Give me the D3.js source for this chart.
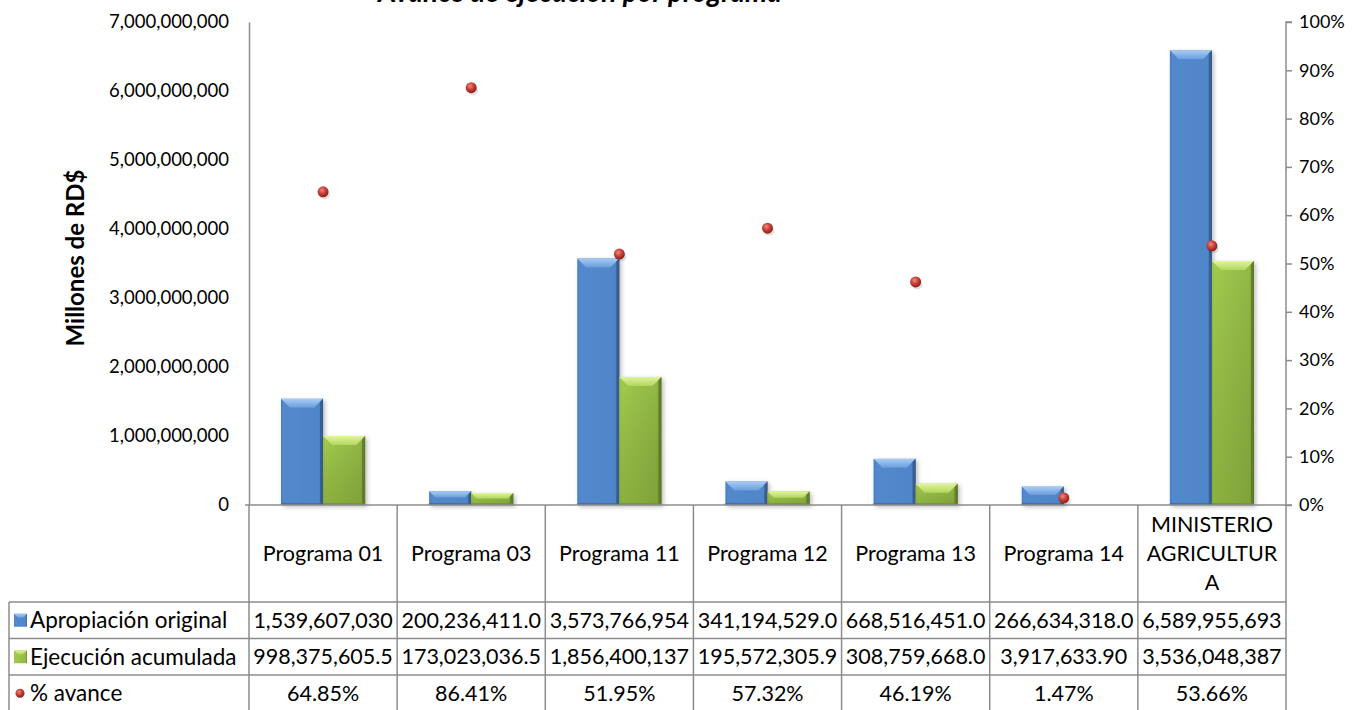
<!DOCTYPE html>
<html><head><meta charset="utf-8">
<script src="https://cdn.jsdelivr.net/npm/d3@7"></script>
<style>
html,body{margin:0;padding:0;background:#fff;}
svg{display:block;font-family:Lato, "Open Sans", sans-serif;}
</style></head>
<body>
<svg id="chart" width="1356" height="710"></svg>
<script>
const categories = ["Programa 01","Programa 03","Programa 11","Programa 12","Programa 13","Programa 14","MINISTERIO AGRICULTURA"];
const categoryLines = [["Programa 01"],["Programa 03"],["Programa 11"],["Programa 12"],["Programa 13"],["Programa 14"],["MINISTERIO","AGRICULTUR","A"]];
const apropiacion = [1539607030, 200236411.0, 3573766954, 341194529.0, 668516451.0, 266634318.0, 6589955693];
const ejecucion = [998375605.5, 173023036.5, 1856400137, 195572305.9, 308759668.0, 3917633.90, 3536048387];
const avance = [0.6485, 0.8641, 0.5195, 0.5732, 0.4619, 0.0147, 0.5366];
const apropiacionLabels = ["1,539,607,030","200,236,411.0","3,573,766,954","341,194,529.0","668,516,451.0","266,634,318.0","6,589,955,693"];
const ejecucionLabels = ["998,375,605.5","173,023,036.5","1,856,400,137","195,572,305.9","308,759,668.0","3,917,633.90","3,536,048,387"];
const avanceLabels = ["64.85%","86.41%","51.95%","57.32%","46.19%","1.47%","53.66%"];
const seriesNames = ["Apropiación original","Ejecución acumulada","% avance"];
const leftTicks = [0,1e9,2e9,3e9,4e9,5e9,6e9,7e9];
const rightTicks = [0,0.1,0.2,0.3,0.4,0.5,0.6,0.7,0.8,0.9,1.0];
const titleText = "Avance de ejecución por programa";
const yTitle = "Millones de RD$";

const svg = d3.select("#chart");
const L = 249, R = 1286, T = 22, B = 505;
const tableLeft = 9, headerBottom = 602, rowH = 36.5;
const lineColor = "#8c8c8c";

const x = d3.scaleBand().domain(categories).range([L, R]).padding(0);
const xs = d3.scaleBand().domain(["a","e"]).range([0, x.bandwidth()]).paddingInner(0).paddingOuter(0.76);
const y = d3.scaleLinear().domain([0, 7e9]).range([B, T]);
const yR = d3.scaleLinear().domain([0, 1]).range([B, T]);

// defs
const defs = svg.append("defs");
function lin(id, stops, x2, y2){
  const g = defs.append("linearGradient").attr("id", id).attr("x1",0).attr("y1",0).attr("x2",x2).attr("y2",y2);
  stops.forEach(s => g.append("stop").attr("offset", s[0]).attr("stop-color", s[1]));
}
lin("blueBody", [[0,"#4a7cc0"],[0.06,"#5288cc"],[0.9,"#5086c9"],[1,"#3b6397"]], 1, 0);
lin("greenBody", [[0,"#97bf45"],[0.06,"#a2ca4d"],[0.9,"#93b946"],[1,"#66822c"]], 1, 0);
lin("blueTop", [[0,"#a9cdf5"],[1,"#6a9ddc"]], 0, 1);
lin("greenTop", [[0,"#e0f59b"],[1,"#b2d65c"]], 0, 1);
lin("greenShade", [[0,"rgba(0,0,0,0)"],[1,"rgba(40,60,0,0.18)"]], 0, 1);
const rg = defs.append("radialGradient").attr("id","ball").attr("cx","40%").attr("cy","35%").attr("r","65%");
rg.append("stop").attr("offset",0).attr("stop-color","#f08a80");
rg.append("stop").attr("offset",0.5).attr("stop-color","#c9413a");
rg.append("stop").attr("offset",1).attr("stop-color","#8a1f1a");
const sh = defs.append("filter").attr("id","shadow").attr("x","-30%").attr("y","-30%").attr("width","160%").attr("height","160%");
sh.append("feDropShadow").attr("dx",2).attr("dy",2).attr("stdDeviation",2).attr("flood-color","#000").attr("flood-opacity",0.25);

// title (cut off at top, as in the reference)
svg.append("text").attr("x", 580).attr("y", 2).attr("text-anchor","middle")
  .attr("font-size", 28).attr("font-weight","bold").attr("font-style","italic").attr("fill","#000")
  .text(titleText);

// axes
const gl = svg.append("g").attr("transform", `translate(${L},0)`)
  .call(d3.axisLeft(y).tickValues(leftTicks).tickFormat(d3.format(",")).tickSize(0).tickPadding(20));
gl.select(".domain").attr("stroke", lineColor).attr("stroke-width",1.5);
gl.selectAll("text").attr("font-size",18.5).attr("fill","#000").attr("font-family","Lato");

const gr = svg.append("g").attr("transform", `translate(${R},0)`)
  .call(d3.axisRight(yR).tickValues(rightTicks).tickFormat(d3.format(".0%")).tickSize(6).tickPadding(7));
gr.select(".domain").attr("stroke", lineColor).attr("stroke-width",1.5).attr("d", `M6,${T}H0V${B}H6`);
gr.selectAll("line").attr("stroke", lineColor).attr("stroke-width",1.5);
gr.selectAll("text").attr("font-size",18).attr("fill","#000").attr("font-family","Lato");

svg.append("text").attr("transform", `translate(84,258) rotate(-90)`).attr("text-anchor","middle")
  .attr("font-size", 24).attr("font-weight","bold").attr("fill","#000").text(yTitle);

// bars
function bevelBar(g, bx, by, bw, bh, kind){
  if (bh < 1) return;
  const b = Math.min(9, bh/2.2);
  const grp = g.append("g").attr("filter","url(#shadow)");
  grp.append("rect").attr("x",bx).attr("y",by).attr("width",bw).attr("height",bh)
    .attr("fill", `url(#${kind}Body)`);
  if(kind==="green") grp.append("rect").attr("x",bx).attr("y",by).attr("width",bw).attr("height",bh).attr("fill","url(#greenShade)");
  grp.append("polygon").attr("points", [[bx,by],[bx+bw,by],[bx+bw-b,by+b],[bx+b,by+b]].map(p=>p.join(",")).join(" "))
    .attr("fill", `url(#${kind}Top)`);
  grp.append("polygon").attr("points", [[bx+bw,by],[bx+bw,by+bh],[bx+bw-3,by+bh-2],[bx+bw-3,by+3]].map(p=>p.join(",")).join(" "))
    .attr("fill", kind==="blue" ? "#34598a" : "#5d7828").attr("opacity",0.8);
  grp.append("rect").attr("x",bx).attr("y",by+bh-2).attr("width",bw).attr("height",2)
    .attr("fill", kind==="blue" ? "#3d6699" : "#6f8f2f").attr("opacity",0.7);
}
const barsG = svg.append("g");
categories.forEach((c,i) => {
  const xb = x(c);
  bevelBar(barsG, xb + xs("a"), y(apropiacion[i]), xs.bandwidth(), B - y(apropiacion[i]), "blue");
  bevelBar(barsG, xb + xs("e"), y(ejecucion[i]), xs.bandwidth(), B - y(ejecucion[i]), "green");
});

// markers
function ball(g, cx, cy, r){
  g.append("ellipse").attr("cx",cx+1.5).attr("cy",cy+3).attr("rx",r).attr("ry",r*0.8).attr("fill","#000").attr("opacity",0.12);
  g.append("circle").attr("cx",cx).attr("cy",cy).attr("r",r).attr("fill","url(#ball)");
}
const markG = svg.append("g");
categories.forEach((c,i) => ball(markG, x(c) + x.bandwidth()/2, yR(avance[i]), 5.5));

// category axis line
svg.append("line").attr("x1", L-4).attr("x2", R).attr("y1", B).attr("y2", B).attr("stroke", lineColor).attr("stroke-width",1.5);

// table
const tg = svg.append("g").attr("stroke", lineColor).attr("stroke-width",1.5).attr("fill","none");
const rowYs = [headerBottom, headerBottom+rowH, headerBottom+2*rowH, headerBottom+3*rowH];
rowYs.forEach(yy => tg.append("line").attr("x1", tableLeft).attr("x2", R).attr("y1", yy).attr("y2", yy));
tg.append("line").attr("x1", tableLeft).attr("x2", tableLeft).attr("y1", headerBottom).attr("y2", 715);
categories.forEach(c => tg.append("line").attr("x1", x(c)).attr("x2", x(c)).attr("y1", B).attr("y2", 715));
tg.append("line").attr("x1", R).attr("x2", R).attr("y1", B).attr("y2", 715);

const tfs = 21.5;
// header labels
categories.forEach((c,i) => {
  const lines = categoryLines[i];
  const cy = (B + headerBottom)/2;
  const lh = 29;
  const t = svg.append("text").attr("text-anchor","middle").attr("font-size",tfs).attr("fill","#000");
  lines.forEach((ln,j) => {
    t.append("tspan").attr("x", x(c) + x.bandwidth()/2)
      .attr("y", cy + (j - (lines.length-1)/2)*lh).attr("dy","0.35em").text(ln);
  });
});
const rowsData = [apropiacionLabels, ejecucionLabels, avanceLabels];
rowsData.forEach((row, r) => {
  const cy = headerBottom + rowH*(r+0.5);
  row.forEach((v,i) => {
    svg.append("text").attr("x", x(categories[i]) + x.bandwidth()/2).attr("y", cy).attr("dy","0.35em")
      .attr("text-anchor","middle").attr("font-size",tfs).attr("fill","#000").text(v);
  });
  // legend key
  const keyX = 14;
  if (r < 2) {
    const kind = r===0 ? "blue" : "green";
    svg.append("rect").attr("x", keyX).attr("y", cy-6.5).attr("width",13).attr("height",13).attr("fill", `url(#${kind}Body)`);
    svg.append("polygon").attr("points", [[keyX,cy-6.5],[keyX+13,cy-6.5],[keyX+9,cy-2.5],[keyX+4,cy-2.5]].map(p=>p.join(",")).join(" ")).attr("fill", `url(#${kind}Top)`);
  } else {
    svg.append("circle").attr("cx", keyX+6).attr("cy", cy).attr("r",4.5).attr("fill","url(#ball)");
  }
  svg.append("text").attr("x", 30).attr("y", cy).attr("dy","0.35em").attr("font-size",22.5).attr("fill","#000").text(seriesNames[r]);
});
</script>
</body></html>
